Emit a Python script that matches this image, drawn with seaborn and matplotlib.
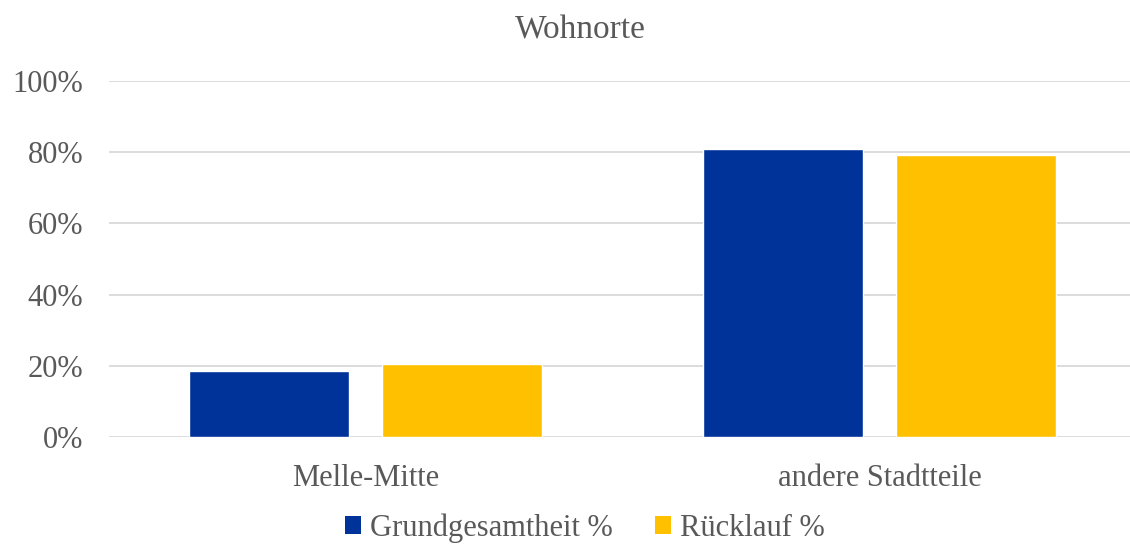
import matplotlib
matplotlib.use("Agg")
import matplotlib.pyplot as plt
import seaborn as sns
import pandas as pd
from matplotlib.patches import Patch

categories = ["Melle-Mitte", "andere Stadtteile"]
series_names = ["Grundgesamtheit %", "Rücklauf %"]
grundgesamtheit = [18.6, 80.9]
ruecklauf = [20.6, 79.2]
yticks = [0, 20, 40, 60, 80, 100]
title = "Wohnorte"
colors = ["#003399", "#FFC000"]

df = pd.DataFrame({
    "Kategorie": categories * 2,
    "Serie": [series_names[0]] * 2 + [series_names[1]] * 2,
    "Wert": grundgesamtheit + ruecklauf,
})

sns.set_theme(style="white")
plt.rcParams["font.family"] = ["Liberation Serif", "DejaVu Serif"]
text_color = "#595959"

fig = plt.figure(figsize=(11.3, 5.46), dpi=100)
ax = fig.add_axes([108.5 / 1130, 1 - 437.3 / 546, (1130 - 108.5) / 1130, (437.3 - 80.7) / 546])

sns.barplot(data=df, x="Kategorie", y="Wert", hue="Serie", palette=colors,
            width=0.75, gap=0.167, ax=ax, legend=False, saturation=1)

ax.set_xlim(-0.5, 1.5 - 6.5 / 514)
ax.set_ylim(0, 100)
ax.set_yticks(yticks)
ax.set_yticklabels([f"{v}%" for v in yticks])
ax.yaxis.grid(True, color="#d9d9d9", linewidth=1.3)
ax.set_axisbelow(True)
for s in ax.spines.values():
    s.set_visible(False)
ax.set_xlabel("")
ax.set_ylabel("")
ax.tick_params(axis="y", length=0, pad=18, labelsize=22, labelcolor=text_color)
ax.tick_params(axis="x", length=0, pad=19, labelsize=22, labelcolor=text_color)

fig.text(580 / 1130, 1 - 30 / 546, title, ha="center", va="center",
         fontsize=24, color=text_color)

handles = [Patch(facecolor=c, edgecolor="none") for c in colors]
fig.legend(handles, series_names, loc="center", bbox_to_anchor=(585 / 1130, 1 - 528 / 546),
           ncol=2, frameon=False, fontsize=22, labelcolor=text_color,
           handlelength=0.5, handleheight=0.5, handletextpad=0.3, columnspacing=1.4,
           borderpad=0.2)

fig.savefig("out.png", dpi=100)
